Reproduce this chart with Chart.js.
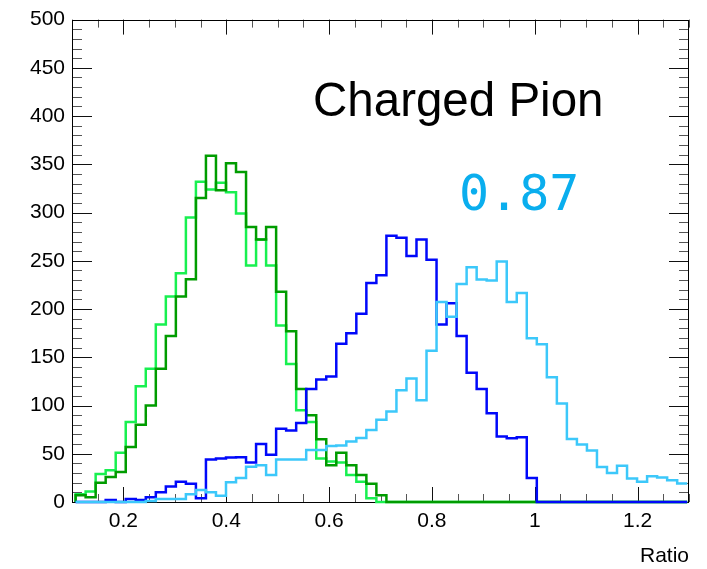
<!DOCTYPE html>
<html lang="en">
  <head>
    <meta charset="UTF-8" />
    <title>Charged Pion</title>
    <style>
      html, body { margin: 0; padding: 0; background: #fff; }
    </style>
  </head>
  <body>
    <canvas id="myChart" width="707" height="569"></canvas>

    <script src="https://cdn.jsdelivr.net/npm/chart.js@4.4.0/dist/chart.umd.min.js"></script>
    <script>
      // histogram binning (left edge of first bin, bin width)
      const binStart = 0.107;
      const binWidth = 0.0195;

      // bin contents
      const cyanCounts = [
        0, 0, 0, 0, 0, 0, 0, 1, 3, 3,
        3, 8, 12.5, 10, 6.5, 20.5, 25, 36.5, 38, 28,
        44, 44, 44, 54, 54, 58, 58.5, 62.6, 66.4, 74.6,
        85.2, 93.8, 115.7, 128, 105.4, 156.8, 207.4, 192, 226, 243.3,
        230.7, 229.7, 249.2, 207.4, 216.6, 169.7, 163.6, 129.4, 102, 65.4,
        59.5, 53.4, 36.3, 30.1, 37.6, 24.3, 20.9, 26.7, 25.3, 22.6,
        19.2
      ];
      const blueCounts = [
        0, 0, 0, 2, 0, 3, 2, 5, 10, 16,
        21, 19, 4, 44, 45, 46, 46.5, 41, 60, 49,
        76, 74, 82, 117, 127, 130, 164, 175, 195, 227,
        235, 276, 274, 255, 272, 251, 184, 206, 172, 134,
        117, 92, 68, 66, 67, 25, 0, 0, 0, 0,
        0, 0, 0, 0, 0, 0, 0, 0, 0, 0,
        0
      ];
      const darkGreenCounts = [
        7, 5, 20, 26, 31, 57, 80, 100, 138, 172,
        213, 231, 315, 359, 323, 351, 342, 285, 272, 285,
        218, 177, 117, 90, 65, 38, 51, 38, 28, 19,
        7, 0, 0, 0, 0, 0, 0, 0, 0, 0,
        0, 0, 0, 0, 0, 0, 0, 0, 0, 0,
        0, 0, 0, 0, 0, 0, 0, 0, 0, 0,
        0
      ];
      const lightGreenCounts = [
        8, 11, 29, 33, 51, 83, 120, 138, 184, 213,
        237, 295, 332, 324, 331, 321, 299, 245, 272, 245,
        183, 143, 95, 83, 45, 42, 41, 28, 21, 4,
        0, 0, 0, 0, 0, 0, 0, 0, 0, 0,
        0, 0, 0, 0, 0, 0, 0, 0, 0, 0,
        0, 0, 0, 0, 0, 0, 0, 0, 0, 0,
        0
      ];

      const xLabelValues = [0.2, 0.4, 0.6, 0.8, 1, 1.2];
      const yLabelValues = [0, 50, 100, 150, 200, 250, 300, 350, 400, 450, 500];

      const labelFont = { family: "'Liberation Sans', Arial, Helvetica, sans-serif", size: 21 };

      // step outline: a point at every bin's left edge, plus the closing edge
      function histPoints(counts) {
        const pts = [{ x: binStart, y: 0 }];
        counts.forEach((c, i) => pts.push({ x: binStart + i * binWidth, y: c }));
        pts.push({ x: binStart + counts.length * binWidth, y: counts[counts.length - 1] });
        return pts;
      }

      function histDataset(counts, color) {
        return {
          data: histPoints(counts),
          borderColor: color,
          borderWidth: 2.5,
          stepped: "before",
          pointRadius: 0,
          tension: 0,
          fill: false,
          clip: { left: 0, right: 0, top: 4, bottom: 4 },
        };
      }

      // ROOT-like frame with inward ticks on all four sides
      const frameTicks = {
        id: "frameTicks",
        beforeDatasetsDraw(chart) {
          const { ctx, chartArea: a, scales } = chart;
          ctx.save();
          ctx.lineWidth = 1;
          scales.x.ticks.forEach((t) => {
            const px = Math.round(scales.x.getPixelForValue(t.value)) + 0.5;
            const major = Math.round(t.value * 100) % 20 === 0;
            const len = major ? 15 : 8;
            ctx.strokeStyle = major ? "#111" : "#555";
            ctx.beginPath();
            ctx.moveTo(px, a.bottom);
            ctx.lineTo(px, a.bottom - len);
            ctx.moveTo(px, a.top);
            ctx.lineTo(px, a.top + len);
            ctx.stroke();
          });
          scales.y.ticks.forEach((t) => {
            const py = Math.round(scales.y.getPixelForValue(t.value)) + 0.5;
            const major = t.value % 50 === 0;
            const len = major ? 20 : 10;
            ctx.strokeStyle = major ? "#111" : "#555";
            ctx.beginPath();
            ctx.moveTo(a.left, py);
            ctx.lineTo(a.left + len, py);
            ctx.moveTo(a.right, py);
            ctx.lineTo(a.right - len, py);
            ctx.stroke();
          });
          ctx.strokeStyle = "#000";
          ctx.strokeRect(Math.round(a.left) + 0.5, Math.round(a.top) + 0.5,
            Math.round(a.right - a.left) - 1, Math.round(a.bottom - a.top));
          ctx.restore();
        },
        afterDraw(chart) {
          const { ctx } = chart;
          ctx.save();
          ctx.textBaseline = "alphabetic";
          ctx.textAlign = "left";
          ctx.fillStyle = "#000";
          ctx.font = "47.5px 'Liberation Sans', Arial, Helvetica, sans-serif";
          ctx.fillText("Charged Pion", 313, 116);
          ctx.fillStyle = "#0AAEEE";
          ctx.font = "50px 'DejaVu Sans Mono', monospace";
          ctx.fillText("0.87", 459, 210);
          ctx.restore();
        },
      };

      const ctx = document.getElementById("myChart").getContext("2d");
      const myChart = new Chart(ctx, {
        type: "line",
        data: {
          datasets: [
            histDataset(cyanCounts, "#3CC8FA"),
            histDataset(blueCounts, "#0008FA"),
            histDataset(darkGreenCounts, "#009C00"),
            histDataset(lightGreenCounts, "#18F050"),
          ],
        },
        options: {
          responsive: false,
          animation: false,
          devicePixelRatio: 1,
          layout: { padding: { top: 15, right: 18, left: 0, bottom: 0 } },
          plugins: {
            legend: { display: false },
            tooltip: { enabled: false },
          },
          scales: {
            x: {
              type: "linear",
              min: 0.1,
              max: 1.3,
              grid: { display: false, drawTicks: false, tickLength: 0 },
              border: { display: false },
              ticks: {
                stepSize: 0.05,
                maxTicksLimit: 100,
                autoSkip: false,
                maxRotation: 0,
                padding: 7,
                color: "#000",
                font: labelFont,
                callback: (v) => {
                  const hit = xLabelValues.find((l) => Math.abs(l - v) < 1e-6);
                  return hit === undefined ? "" : String(hit);
                },
              },
              title: {
                display: true,
                text: "Ratio",
                align: "end",
                color: "#000",
                font: labelFont,
                padding: { top: 0, bottom: 0 },
              },
              afterFit: (s) => { s.height = 67; },
            },
            y: {
              min: 0,
              max: 500,
              grid: { display: false, drawTicks: false, tickLength: 0 },
              border: { display: false },
              ticks: {
                stepSize: 10,
                maxTicksLimit: 100,
                autoSkip: false,
                padding: 7,
                color: "#000",
                font: labelFont,
                callback: (v) => (yLabelValues.includes(v) ? String(v) : ""),
              },
              afterFit: (s) => { s.width = 72; },
            },
          },
        },
        plugins: [frameTicks],
      });
    </script>
  </body>
</html>
